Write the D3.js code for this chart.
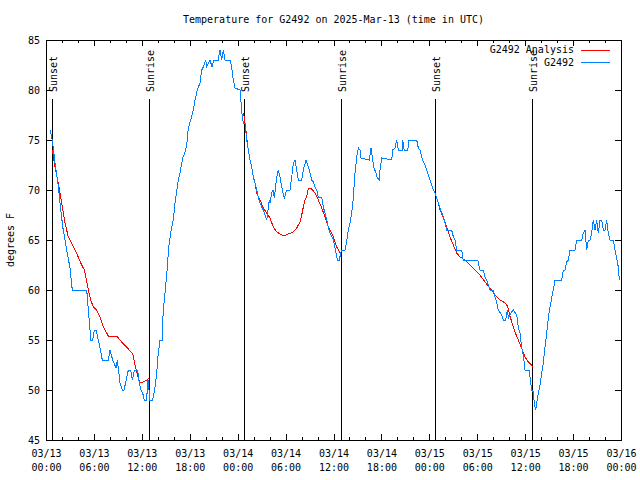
<!DOCTYPE html>
<html><head><meta charset="utf-8">
<script src="https://cdn.jsdelivr.net/npm/d3@7"></script>
<style>
html,body{margin:0;padding:0;background:#fff;}
svg{display:block;}
text{font-family:"DejaVu Sans Mono","Liberation Mono",monospace;font-size:10px;fill:#000;}
</style></head><body>
<svg id="chart" width="640" height="480"></svg>
<script>
const chartTitle = "Temperature for G2492 on 2025-Mar-13 (time in UTC)";
const yAxisTitle = "degrees F";
const seriesNames = ["G2492 Analysis", "G2492"];
const seriesColors = ["#ff0000", "#0080ff"];
const startUTC = Date.UTC(2025, 2, 13, 0, 0);
const spanHours = 72;
const yDomain = [45, 85];
const yTicks = [45, 50, 55, 60, 65, 70, 75, 80, 85];
// hours after 03/13 00:00 UTC
const sunEventHours = [0.78, 12.93, 24.83, 36.98, 48.75, 60.90];
const sunEventLabels = ["Sunset", "Sunrise", "Sunset", "Sunrise", "Sunset", "Sunrise"];

// observations: [hours after start, degrees F]
const obsPoints = [
[0.50,76],[0.79,75],[1.13,72.7],[1.55,70.3],[1.75,68.7],[2.10,66.3],[2.59,64],[3.01,62.2],[3.29,60],[5.10,60],
[5.30,58],[5.51,56],[5.55,55],[5.85,55],[6.05,56],[6.26,56],[6.55,55],[6.89,53.7],[7.05,53],[7.80,53],
[8.01,54],[8.35,53],[8.77,52.2],[8.93,53],[9.08,52],[9.27,50.7],[9.55,50],[9.77,50],[10.10,51.2],[10.31,52],
[10.61,52],[10.81,51],[11.06,52],[11.48,52],[11.68,50.7],[11.90,50],[12.18,49.5],[12.31,49],[12.61,49],[12.73,51],
[12.85,51],[12.95,49],[13.36,49],[13.65,50.3],[13.86,51.7],[14.06,53.7],[14.28,55],[14.56,55],[14.61,57],[14.78,58.7],
[15.03,60.8],[15.19,62.2],[15.36,64.2],[15.61,65.7],[15.94,67],[16.15,68.7],[16.57,71],[16.78,71.7],[17.12,73.2],[17.41,73.8],
[17.62,74.5],[17.82,76.2],[18.12,77],[18.37,77.7],[18.66,79],[18.95,80],[19.28,80.7],[19.50,82],[19.70,82.3],[20.00,83],
[20.12,82.3],[20.54,83],[20.79,82.3],[21.00,83],[21.25,83],[21.55,83],[21.79,84],[22.00,83],[22.20,84],[22.41,83],
[23.04,83],[23.25,82.3],[23.45,81],[23.67,80.2],[24.29,80],[24.42,78.8],[24.58,77.3],[24.71,76.7],[24.92,76.7],[25.13,75],
[25.33,74],[25.54,73],[25.76,72.3],[25.96,71.3],[26.17,70.7],[26.38,70],[26.58,69.3],[26.80,68.7],[27.01,68.3],[27.21,68],
[27.64,67],[27.96,69],[28.05,68.7],[28.26,69.7],[28.43,70],[28.59,69.2],[28.89,71.3],[29.09,72],[29.30,71.3],[29.51,70.3],
[29.84,69.2],[30.14,70],[30.55,70],[30.77,71.3],[30.97,72.7],[31.18,73],[31.39,72],[31.59,71],[32.02,71],[32.22,72],
[32.56,73],[32.85,72.3],[33.06,71.7],[33.27,71],[33.47,70.8],[33.68,70.3],[33.90,70],[34.10,69.3],[34.52,69.3],[34.72,68.3],
[34.94,67.7],[35.15,67],[35.35,66.3],[35.56,65.7],[35.98,65],[36.31,63.7],[36.48,63],[36.73,63],[36.90,63.7],[37.03,64],
[37.44,64],[37.65,64.8],[37.85,66],[38.07,66.7],[38.28,67.7],[38.48,69.2],[38.69,71.7],[38.91,73.3],[39.11,74.2],[39.32,74],
[39.44,73.2],[40.48,73],[40.70,74.2],[40.91,73],[41.07,72.2],[41.28,71.8],[41.49,71.2],[41.75,71],[41.82,72],[42.04,73.2],
[43.29,73],[43.41,74],[43.70,74.2],[43.91,75],[44.11,74],[44.60,74],[44.67,75],[44.85,74],[45.30,74],[45.45,75],
[46.42,75],[46.62,74.2],[46.83,74],[47.04,73.3],[47.25,72.8],[47.46,72.5],[47.67,72],[47.87,71.5],[48.08,71],[48.30,70.5],
[48.50,70],[48.71,69.7],[48.92,69.2],[49.34,68.2],[49.75,67.3],[49.96,66.7],[50.17,66],[50.80,66],[50.93,65.5],[51.21,65],
[51.43,64],[52.05,64],[52.18,63.3],[52.25,63],[54.06,63],[54.26,62.3],[54.35,62],[54.76,62],[54.97,61.3],[55.18,61],
[55.38,60.5],[55.60,60],[56.01,60],[56.22,59.3],[56.35,59],[56.64,58],[57.06,57.5],[57.26,57],[57.56,57],[57.77,58],
[57.89,57.2],[58.10,57.5],[58.31,57.8],[58.52,58],[58.94,57.5],[59.14,56.3],[59.35,55.7],[59.56,54.3],[59.77,53.5],[59.98,52],
[60.52,52],[60.69,50.7],[60.82,50],[61.02,49.8],[61.14,48.7],[61.32,48],[61.44,48.7],[61.65,49.7],[61.86,50.5],[62.07,51.7],
[62.27,52.7],[62.48,54.3],[62.70,55.7],[62.90,57.2],[63.11,58.3],[63.32,59.2],[63.52,60],[63.74,61],[64.58,61],[64.78,62],
[65.00,62],[65.20,62.8],[65.40,63],[65.61,64],[66.24,64],[66.45,65],[67.08,65],[67.28,65.7],[67.49,66],[67.71,64],
[67.91,65],[68.12,65],[68.33,65.7],[68.53,67],[68.75,66],[68.95,67],[69.16,65.7],[69.37,67],[69.58,67],[69.79,66],
[70.00,66],[70.21,67],[70.41,65.7],[70.62,65],[71.04,65],[71.25,64],[71.46,63.2],[71.66,62.3],[71.79,61]
];

// analysis (night-time only), null separates nights
const analysisHours = [
0.79,1.13,1.54,1.97,2.38,2.79,3.22,3.63,4.04,4.47,4.80,5.10,5.30,5.60,5.92,6.35,6.76,7.18,7.60,7.80,
8.85,9.27,9.68,10.10,10.52,10.86,11.14,11.36,11.56,11.77,12.18,12.40,12.81,12.93, null,
24.74,24.92,25.13,25.33,25.54,25.76,25.96,26.17,26.38,26.80,27.21,27.64,28.05,28.46,28.89,29.30,29.84,30.34,30.97,31.39,
31.81,32.02,32.22,32.43,32.64,32.85,33.27,33.68,34.10,34.52,34.94,35.35,35.56,35.98,36.40,36.82,36.95, null,
48.77,48.92,49.12,49.34,49.75,50.17,50.59,51.00,51.43,51.84,52.47,53.09,53.72,54.35,54.97,55.60,56.22,56.85,57.48,57.77,
58.02,58.31,58.73,59.14,59.56,59.98,60.39,60.82,60.90
];
const analysisTemps = [
74,72.3,70.7,68.7,66.7,65.3,64.7,64,63.3,62.5,62,60.8,60,59,58.3,58,57.3,56.3,55.7,55.4,
55.4,55,54.6,54.3,53.9,53.6,52.5,51.8,51.2,50.7,50.8,50.9,51.1,51.2, null,
77.7,76.7,75.3,74,73,72.3,71.3,70.7,69.7,69,68.2,67.7,67.2,66.3,65.8,65.6,65.4,65.6,65.8,66.2,
66.8,67.5,68.3,69,69.3,70.2,70.1,69.7,69,68.2,67.3,66.3,66,65.3,64.3,63.7,63.6, null,
69.6,69.2,68.7,68,67.2,66.3,65.3,64.5,63.7,63.3,63,62.5,62,61.5,60.8,60.2,59.5,59,58.7,58.4,
57.7,56.8,55.8,55,54.2,53.3,52.8,52.5,52.3
];

const svg = d3.select("#chart");
svg.append("rect").attr("width", 640).attr("height", 480).attr("fill", "#fff");
const m = {l: 46, r: 621, t: 40, b: 440};
const toDate = h => new Date(startUTC + h * 3600000);
const x = d3.scaleUtc().domain([toDate(0), toDate(spanHours)]).range([m.l, m.r]);
const y = d3.scaleLinear().domain(yDomain).range([m.b, m.t]);

const majorTicks = d3.utcHour.every(6).range(toDate(0), toDate(spanHours + 0.01));
const minorTicks = d3.utcHour.every(2).range(toDate(0), toDate(spanHours + 0.01));
const fmtDay = d3.utcFormat("%m/%d"), fmtTime = d3.utcFormat("%H:%M");

function clean(g) { g.select(".domain").remove(); g.selectAll("line").attr("stroke", "#000"); g.attr("shape-rendering", "crispEdges"); }

svg.append("g").attr("transform", `translate(0,${m.b})`)
  .call(d3.axisBottom(x).tickValues(minorTicks).tickSizeInner(-3).tickSizeOuter(0).tickFormat("")).call(clean);
svg.append("g").attr("transform", `translate(0,${m.t})`)
  .call(d3.axisTop(x).tickValues(minorTicks).tickSizeInner(-3).tickSizeOuter(0).tickFormat("")).call(clean);
svg.append("g").attr("transform", `translate(0,${m.t})`)
  .call(d3.axisTop(x).tickValues(majorTicks).tickSizeInner(-6).tickSizeOuter(0).tickFormat("")).call(clean);
const xb = svg.append("g").attr("transform", `translate(0,${m.b})`)
  .call(d3.axisBottom(x).tickValues(majorTicks).tickSizeInner(-6).tickSizeOuter(0).tickFormat(fmtDay)).call(clean);
xb.selectAll(".tick text").each(function(d) {
  const t = d3.select(this).attr("y", null).attr("dy", null).text(null)
    .attr("font-family", null).attr("font-size", null).attr("fill", "#000");
  t.append("tspan").attr("x", 0).attr("y", 17).text(fmtDay(d));
  t.append("tspan").attr("x", 0).attr("y", 30.5).text(fmtTime(d));
});
const yl = svg.append("g").attr("transform", `translate(${m.l},0)`)
  .call(d3.axisLeft(y).tickValues(yTicks).tickSizeInner(-6).tickSizeOuter(0).tickPadding(6)).call(clean);
yl.selectAll("text").attr("font-family", null).attr("font-size", null).attr("fill", "#000");
svg.append("g").attr("transform", `translate(${m.r},0)`)
  .call(d3.axisRight(y).tickValues(yTicks).tickSizeInner(-6).tickSizeOuter(0).tickFormat("")).call(clean);

// border
svg.append("rect").attr("x", m.l + 0.5).attr("y", m.t + 0.5).attr("width", m.r - m.l).attr("height", m.b - m.t)
  .attr("fill", "none").attr("stroke", "#000").attr("shape-rendering", "crispEdges");

// sunrise / sunset lines
const sun = svg.append("g");
sunEventHours.forEach((h, i) => {
  const sx = Math.round(x(toDate(h))) + 0.5;
  sun.append("line").attr("x1", sx).attr("x2", sx).attr("y1", 99).attr("y2", m.b)
    .attr("stroke", "#000").attr("shape-rendering", "crispEdges");
  sun.append("text").attr("transform", `translate(${sx + 4.5},92) rotate(-90)`)
    .attr("text-anchor", "start").text(sunEventLabels[i]);
});

const line = d3.line().defined(d => d[0] != null && d[1] != null)
  .x(d => x(toDate(d[0]))).y(d => y(d[1]));
const analysisPoints = analysisHours.map((h, i) => [h, analysisTemps[i]]);

svg.append("path").datum(analysisPoints).attr("d", line).attr("fill", "none")
  .attr("stroke", seriesColors[0]).attr("stroke-width", 1).attr("shape-rendering", "crispEdges");
svg.append("path").datum(obsPoints).attr("d", line).attr("fill", "none")
  .attr("stroke", seriesColors[1]).attr("stroke-width", 1).attr("shape-rendering", "crispEdges");

// title
svg.append("text").attr("x", (m.l + m.r) / 2).attr("y", 23).attr("text-anchor", "middle").text(chartTitle);
svg.append("text").attr("transform", "translate(13.5,240) rotate(-90)").attr("text-anchor", "middle").text(yAxisTitle);

// legend
const leg = svg.append("g");
seriesNames.forEach((n, i) => {
  const ly = 49.5 + i * 12.5;
  leg.append("text").attr("x", 574).attr("y", ly + 3.5).attr("text-anchor", "end").text(n);
  leg.append("line").attr("x1", 581).attr("x2", 610).attr("y1", Math.round(ly) + 0.5).attr("y2", Math.round(ly) + 0.5)
    .attr("stroke", seriesColors[i]).attr("shape-rendering", "crispEdges");
});
</script>
</body></html>
